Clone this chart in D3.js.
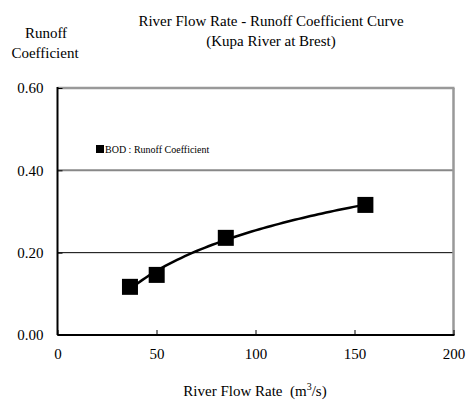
<!DOCTYPE html>
<html><head><meta charset="utf-8">
<script src="https://cdn.jsdelivr.net/npm/d3@7"></script>
<style>body{margin:0;background:#fff}</style>
</head><body><svg id="c" width="467" height="400"></svg>
<script>
const flowRate = [36.6, 50.1, 85, 155.5];
const runoffCoef = [0.117, 0.146, 0.236, 0.316];
const xTicks = [0, 50, 100, 150, 200];
const yTicks = [0, 0.2, 0.4, 0.6];
const seriesName = "BOD : Runoff Coefficient";
const FONT = "'Liberation Serif', 'Times New Roman', 'DejaVu Serif', serif";

const svg = d3.select("#c").attr("font-family", FONT);
const L = 57.5, R = 453.5, T = 88, B = 335;
const x = d3.scaleLinear().domain([0, 200]).range([L, R]);
const y = d3.scaleLinear().domain([0, 0.6]).range([B, T]);

// gridlines
svg.append("line").attr("x1", L).attr("x2", R).attr("y1", y(0.4)).attr("y2", y(0.4)).attr("stroke", "#888").attr("stroke-width", 2);
svg.append("line").attr("x1", L).attr("x2", R).attr("y1", y(0.2)).attr("y2", y(0.2)).attr("stroke", "#000").attr("stroke-width", 1);
// frame: top & right gray
svg.append("line").attr("x1", L).attr("x2", R + 1).attr("y1", T).attr("y2", T).attr("stroke", "#999").attr("stroke-width", 2.5);
svg.append("line").attr("x1", R).attr("x2", R).attr("y1", T).attr("y2", B).attr("stroke", "#999").attr("stroke-width", 2.5);

// axes
const xAxis = svg.append("g").attr("transform", `translate(0,${B})`)
  .call(d3.axisBottom(x).tickValues(xTicks).tickSize(-5).tickPadding(13).tickFormat(d3.format("d")));
xAxis.attr("font-family", FONT);
xAxis.select(".domain").attr("stroke", "#000").attr("stroke-width", 2).attr("d", `M${L},0H${R+1}`);
xAxis.selectAll(".tick line").attr("stroke", "#000");
xAxis.selectAll("text").attr("font-size", 15).attr("font-family", FONT).attr("dy", "0.71em");

const yAxis = svg.append("g").attr("transform", `translate(${L},0)`)
  .call(d3.axisLeft(y).tickValues(yTicks).tickSize(-5).tickPadding(14).tickFormat(d3.format(".2f")));
yAxis.attr("font-family", FONT);
yAxis.select(".domain").attr("stroke", "#000").attr("stroke-width", 2).attr("d", `M0,${T-1}V${B}`);
yAxis.selectAll(".tick line").attr("stroke", "#000");
yAxis.selectAll("text").attr("font-size", 15).attr("font-family", FONT);

// logarithmic trend line fitted to the data (y = a ln x + b)
const data = flowRate.map((d, i) => ({ x: d, y: runoffCoef[i] }));
const lx = flowRate.map(Math.log);
const mx = d3.mean(lx), my = d3.mean(runoffCoef);
const a = d3.sum(lx, (v, i) => (v - mx) * (runoffCoef[i] - my)) / d3.sum(lx, v => (v - mx) ** 2);
const b = my - a * mx;
const [x0, x1] = d3.extent(flowRate);
const trend = d3.range(0, 61).map(i => { const xv = x0 + (x1 - x0) * i / 60; return { x: xv, y: a * Math.log(xv) + b }; });
svg.append("path").datum(trend)
  .attr("d", d3.line().x(d => x(d.x)).y(d => y(d.y)))
  .attr("fill", "none").attr("stroke", "#000").attr("stroke-width", 2.5);
svg.selectAll("rect.pt").data(data).enter().append("rect").attr("class", "pt")
  .attr("x", d => x(d.x) - 8).attr("y", d => y(d.y) - 8).attr("width", 16).attr("height", 16).attr("fill", "#000");

// legend
svg.append("rect").attr("x", 96).attr("y", 145).attr("width", 8).attr("height", 8).attr("fill", "#000");
svg.append("text").attr("x", 105).attr("y", 153).attr("font-size", 10).attr("font-family", FONT).text(seriesName);

// titles
function txt(xx, yy, s) {
  return svg.append("text").attr("x", xx).attr("y", yy).attr("text-anchor", "middle")
    .attr("font-size", 15).attr("font-family", FONT).text(s);
}
txt(271, 26, "River Flow Rate - Runoff Coefficient Curve");
txt(271, 46, "(Kupa River at Brest)");
txt(46, 38, "Runoff");
txt(45, 58, "Coefficient");

const xt = svg.append("text").attr("x", 255).attr("y", 396).attr("text-anchor", "middle")
  .attr("font-size", 15).attr("font-family", FONT).style("white-space", "pre");
xt.append("tspan").text("River Flow Rate  (m");
xt.append("tspan").attr("dy", -6).attr("font-size", 10).text("3");
xt.append("tspan").attr("dy", 6).text("/s)");
</script></body></html>
